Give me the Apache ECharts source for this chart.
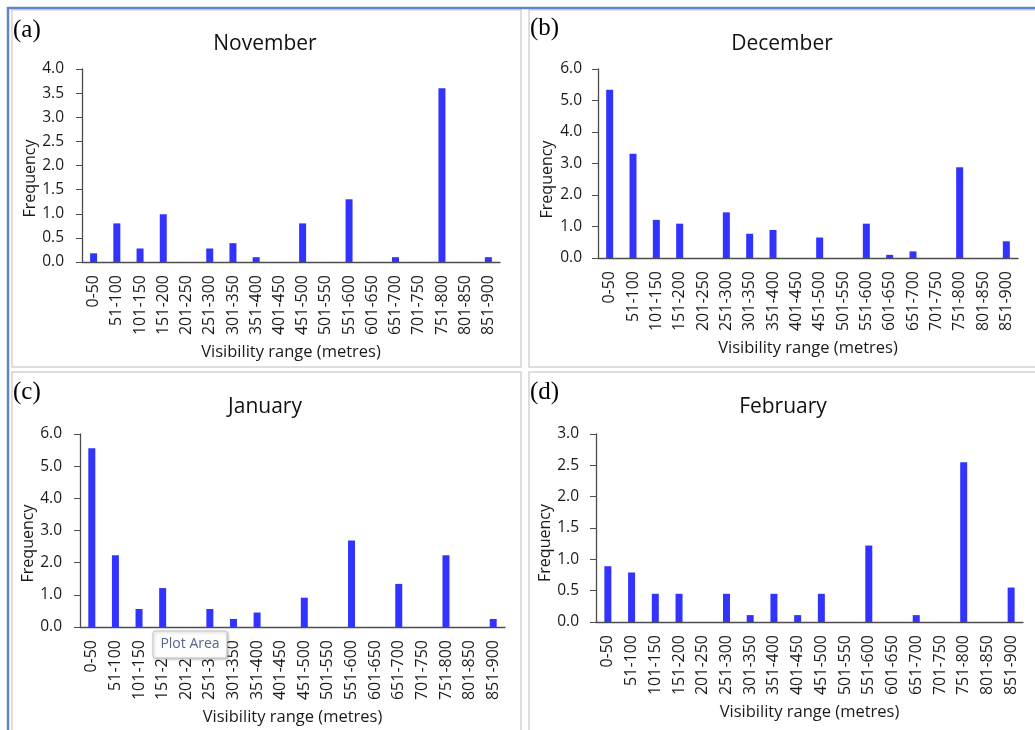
<!DOCTYPE html>
<html>
<head>
<meta charset="utf-8">
<script src="https://cdn.jsdelivr.net/npm/echarts@6/dist/echarts.min.js"></script>
<style>
html,body{margin:0;padding:0;background:#fff;}
#chart{width:1035px;height:730px;}
</style>
</head>
<body>
<div id="chart"></div>
<script>
const categories = ['0-50','51-100','101-150','151-200','201-250','251-300','301-350','351-400','401-450','451-500','501-550','551-600','601-650','651-700','701-750','751-800','801-850','851-900'];
const november = [0.18,0.8,0.28,0.99,0,0.28,0.39,0.1,0,0.8,0,1.3,0,0.1,0,3.6,0,0.1];
const december = [5.34,3.31,1.21,1.09,0,1.45,0.77,0.89,0,0.65,0,1.09,0.1,0.21,0,2.88,0,0.53];
const january  = [5.56,2.23,0.56,1.21,0,0.56,0.25,0.45,0,0.91,0,2.69,0,1.34,0,2.23,0,0.25];
const february = [0.89,0.79,0.45,0.45,0,0.45,0.11,0.45,0.11,0.45,0,1.22,0,0.11,0,2.55,0,0.55];
const monthNames = ['November','December','January','February'];
const panelLabels = ['(a)','(b)','(c)','(d)'];
const yMax = [4, 6, 6, 3];
const yStep = [0.5, 1, 1, 0.5];
const xAxisName = 'Visibility range (metres)';
const yAxisName = 'Frequency';
const series = [november, december, january, february];

const font = '"Open Sans", Lato, sans-serif';
const grids = [
  {left:82, top:69, width:418, height:193},
  {left:598, top:69, width:420, height:189},
  {left:80, top:434, width:425, height:193},
  {left:596, top:434, width:427, height:188}
];
const titlePos = [
  {x:265, y:34}, {x:782, y:34}, {x:265, y:397}, {x:783, y:397}
];
const labelPos = [
  {x:13, y:18}, {x:530, y:16}, {x:13, y:380}, {x:530, y:380}
];
const yNameGap = [44, 43, 44, 43];
const yNameShift = [13, 16, 13, 15];
const yLabelMargin = [18, 16, 18, 17];

const option = {
  backgroundColor:'#fff',
  animation:false,
  title: [],
  grid: grids,
  xAxis: [], yAxis: [], series: [],
  graphic: []
};

for (let i=0;i<4;i++){
  option.title.push({
    text: monthNames[i], left: titlePos[i].x, top: titlePos[i].y, textAlign:'center', padding:0,
    textStyle:{fontFamily:font, fontSize:21, fontWeight:'normal', color:'#111'}
  });
  option.title.push({
    text: panelLabels[i], left: labelPos[i].x, top: labelPos[i].y, padding:0,
    textStyle:{fontFamily:'"Liberation Serif", serif', fontSize:25, fontWeight:'normal', color:'#000'}
  });
  option.xAxis.push({
    type:'category', gridIndex:i, data:categories,
    axisLine:{lineStyle:{color:'#4d4d4d', width:1.3}},
    axisTick:{show:false},
    axisLabel:{rotate:90, fontFamily:font, fontSize:16, color:'#1a1a1a', margin:13, interval:0},
    name: xAxisName, nameLocation:'middle', nameGap:82,
    nameTextStyle:{fontFamily:font, fontSize:16.5, color:'#1a1a1a'}
  });
  option.yAxis.push({
    type:'value', gridIndex:i, min:0, max:yMax[i], interval:yStep[i],
    axisLine:{show:true, lineStyle:{color:'#4d4d4d', width:1.3}},
    axisTick:{show:true, inside:false, length:6, lineStyle:{color:'#4d4d4d'}},
    splitLine:{show:false},
    axisLabel:{fontFamily:font, fontSize:15.5, color:'#1a1a1a', margin:yLabelMargin[i],
      formatter: v => v.toFixed(1)},
    name: yAxisName, nameLocation:'middle', nameGap:yNameGap[i],
    nameTextStyle:{fontFamily:font, fontSize:16, color:'#1a1a1a', padding:[0, 2*yNameShift[i], 0, 0]}
  });
  option.series.push({
    type:'bar', xAxisIndex:i, yAxisIndex:i, data:series[i], barWidth:7,
    itemStyle:{color:'#3333ff'}
  });
}

// panel borders
const g = option.graphic;
const border = {stroke:'#d4d4d4', fill:'none', lineWidth:1.5};
g.push({type:'rect', shape:{x:12, y:10, width:509, height:357}, style:border, silent:true, z:0});
g.push({type:'rect', shape:{x:529, y:10, width:520, height:357}, style:border, silent:true, z:0});
g.push({type:'rect', shape:{x:12, y:372, width:509, height:380}, style:border, silent:true, z:0});
g.push({type:'rect', shape:{x:529, y:372, width:520, height:380}, style:border, silent:true, z:0});
// outer blue frame
g.push({type:'line', shape:{x1:7, y1:8, x2:1035, y2:8}, style:{stroke:'#5b87c8', lineWidth:2.5}, silent:true, z:1});
g.push({type:'line', shape:{x1:8, y1:7, x2:8, y2:730}, style:{stroke:'#5b87c8', lineWidth:2.5}, silent:true, z:1});
// Excel "Plot Area" tooltip
g.push({type:'rect', z:100, zlevel:1, silent:true, shape:{x:153, y:631, width:74, height:27, r:2},
   style:{fill:'#fdfdfd', stroke:'#c4c4c4', lineWidth:1, shadowBlur:3, shadowColor:'rgba(0,0,0,0.25)', shadowOffsetX:1, shadowOffsetY:1}});
g.push({type:'text', z:101, zlevel:1, silent:true, style:{x:190, y:644, text:'Plot Area', align:'center', verticalAlign:'middle',
   font:'14px ' + font, fill:'#5b6585'}});

const chart = echarts.init(document.getElementById('chart'), null, {renderer:'canvas'});
chart.setOption(option);
</script>
</body>
</html>
